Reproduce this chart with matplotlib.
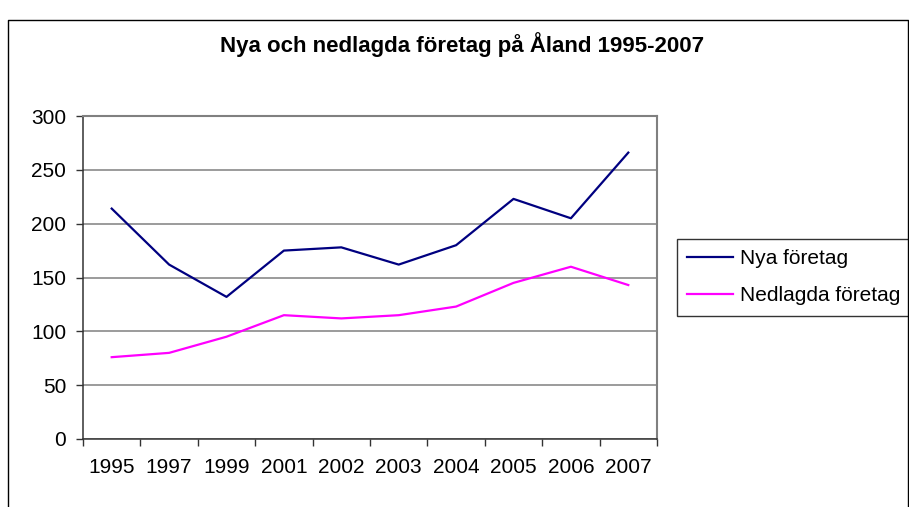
import matplotlib
matplotlib.use("Agg")
import matplotlib.pyplot as plt
from matplotlib.lines import Line2D

plt.rcParams["font.family"] = ["Liberation Sans", "DejaVu Sans"]

years = ["1995", "1997", "1999", "2001", "2002", "2003", "2004", "2005", "2006", "2007"]
nya_foretag = [214, 162, 132, 175, 178, 162, 180, 223, 205, 266]
nedlagda_foretag = [76, 80, 95, 115, 112, 115, 123, 145, 160, 143]
y_ticks = [0, 50, 100, 150, 200, 250, 300]

W, H = 909, 507
fig = plt.figure(figsize=(W / 100, H / 100), dpi=100)
fig.patch.set_facecolor("white")

# outer chart frame (cut off at the right and bottom in the reference)
frame = Line2D([8 / W, 8 / W, 908 / W, 908 / W], [0, 1 - 20 / H, 1 - 20 / H, 0],
               transform=fig.transFigure, color="black", lw=1.0)
fig.add_artist(frame)

ax = fig.add_axes([83 / W, (H - 439) / H, (657 - 83) / W, (439 - 116) / H])
x = list(range(len(years)))
ax.plot(x, nya_foretag, color="#000080", lw=1.6, label="Nya företag")
ax.plot(x, nedlagda_foretag, color="#FF00FF", lw=1.6, label="Nedlagda företag")

ax.set_xlim(-0.5, len(years) - 0.5)
ax.set_ylim(0, 300)
ax.set_yticks(y_ticks)
ax.yaxis.grid(True, color="#808080", lw=1.1)
ax.set_axisbelow(True)

ax.set_xticks(x)
ax.set_xticklabels(years)
ax.set_xticks([i - 0.5 for i in range(len(years) + 1)], minor=True)
ax.tick_params(axis="x", which="major", length=0, pad=14, labelsize=15)
ax.tick_params(axis="x", which="minor", length=5, width=1.0, direction="out", color="#333333")
ax.tick_params(axis="y", length=5, width=1.0, direction="out", pad=7, labelsize=15,
               color="#333333")

for side in ("top", "right"):
    ax.spines[side].set_color("#808080")
    ax.spines[side].set_linewidth(1.5)
for side in ("left", "bottom"):
    ax.spines[side].set_color("#333333")
    ax.spines[side].set_linewidth(1.1)

fig.text(462 / W, 1 - 45 / H, "Nya och nedlagda företag på Åland 1995-2007",
         ha="center", va="center", fontsize=16, fontweight="bold")

leg = ax.legend(loc="upper left", bbox_to_anchor=(677 / W, 1 - 239 / H),
                bbox_transform=fig.transFigure, fontsize=15, frameon=True,
                fancybox=False, edgecolor="black", handlelength=2.2,
                handletextpad=0.3, labelspacing=0.85, borderpad=0.5,
                borderaxespad=0)
leg.get_frame().set_linewidth(1.0)

fig.savefig("out.png", dpi=100)
